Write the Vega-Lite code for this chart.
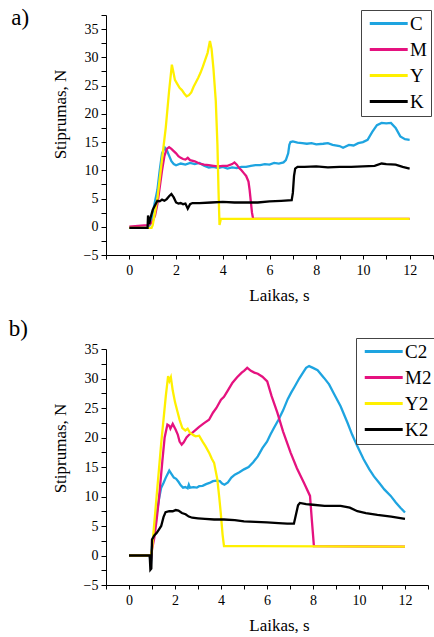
{
  "$schema": "https://vega.github.io/schema/vega-lite/v6.json",
  "padding": {"left": 8, "top": 7, "right": 0, "bottom": 0},
  "spacing": 14,
  "config": {
    "view": {"stroke": null},
    "font": "Liberation Serif",
    "axis": {
      "grid": false,
      "domainColor": "#000000",
      "tickColor": "#000000",
      "labelColor": "#000000",
      "titleColor": "#000000",
      "labelFont": "Liberation Serif",
      "titleFont": "Liberation Serif",
      "labelFontSize": 14,
      "titleFontSize": 17,
      "titleFontWeight": "normal",
      "labelOverlap": false,
      "labelFlush": false,
      "domainWidth": 1,
      "tickWidth": 1
    },
    "legend": {"strokeColor": "#444444"},
    "title": {"font": "Liberation Serif", "fontSize": 23, "fontWeight": "normal", "orient": "left", "angle": 0, "anchor": "end", "align": "right", "baseline": "top", "offset": 4, "color": "#000000"}
  },
  "datasets": {
    "a": [
      {"s":"C","t":0,"v":-0.2},{"s":"C","t":0.8,"v":-0.2},{"s":"C","t":0.9,"v":0.5},{"s":"C","t":1.0,"v":2.5},{"s":"C","t":1.1,"v":4.5},{"s":"C","t":1.2,"v":6.5},{"s":"C","t":1.3,"v":10},{"s":"C","t":1.4,"v":13},{"s":"C","t":1.52,"v":14},{"s":"C","t":1.6,"v":13.6},{"s":"C","t":1.7,"v":12.6},{"s":"C","t":1.8,"v":11.6},{"s":"C","t":1.9,"v":11.1},{"s":"C","t":2.0,"v":10.9},{"s":"C","t":2.2,"v":11.2},{"s":"C","t":2.4,"v":11},{"s":"C","t":2.6,"v":11.3},{"s":"C","t":2.8,"v":11.1},{"s":"C","t":3.0,"v":11.3},{"s":"C","t":3.2,"v":10.8},{"s":"C","t":3.4,"v":10.5},{"s":"C","t":3.6,"v":10.6},{"s":"C","t":3.8,"v":10.4},{"s":"C","t":4.0,"v":10.6},{"s":"C","t":4.2,"v":10.3},{"s":"C","t":4.4,"v":10.5},{"s":"C","t":4.6,"v":10.4},{"s":"C","t":4.8,"v":10.6},{"s":"C","t":5.0,"v":10.6},{"s":"C","t":5.2,"v":10.8},{"s":"C","t":5.4,"v":10.9},{"s":"C","t":5.6,"v":10.9},{"s":"C","t":5.8,"v":11.1},{"s":"C","t":6.0,"v":11.0},{"s":"C","t":6.2,"v":11.3},{"s":"C","t":6.4,"v":11.2},{"s":"C","t":6.6,"v":11.4},{"s":"C","t":6.7,"v":11.8},{"s":"C","t":6.8,"v":13},{"s":"C","t":6.85,"v":14.5},{"s":"C","t":6.9,"v":15},{"s":"C","t":7.0,"v":15.1},{"s":"C","t":7.2,"v":14.9},{"s":"C","t":7.4,"v":14.8},{"s":"C","t":7.6,"v":14.7},{"s":"C","t":7.8,"v":14.8},{"s":"C","t":8.0,"v":14.6},{"s":"C","t":8.3,"v":14.7},{"s":"C","t":8.5,"v":14.8},{"s":"C","t":8.7,"v":14.5},{"s":"C","t":9.0,"v":14.3},{"s":"C","t":9.15,"v":14.0},{"s":"C","t":9.4,"v":14.5},{"s":"C","t":9.6,"v":14.4},{"s":"C","t":9.8,"v":14.8},{"s":"C","t":10.0,"v":15.0},{"s":"C","t":10.2,"v":15.4},{"s":"C","t":10.4,"v":16.8},{"s":"C","t":10.6,"v":18.0},{"s":"C","t":10.8,"v":18.4},{"s":"C","t":11.0,"v":18.3},{"s":"C","t":11.2,"v":18.4},{"s":"C","t":11.4,"v":17.5},{"s":"C","t":11.6,"v":16.0},{"s":"C","t":11.8,"v":15.5},{"s":"C","t":12.0,"v":15.4},
      {"s":"M","t":0,"v":0},{"s":"M","t":0.5,"v":0.2},{"s":"M","t":0.8,"v":0.3},{"s":"M","t":0.9,"v":0.5},{"s":"M","t":1.0,"v":1},{"s":"M","t":1.1,"v":2},{"s":"M","t":1.2,"v":4},{"s":"M","t":1.3,"v":7},{"s":"M","t":1.4,"v":10},{"s":"M","t":1.5,"v":12.5},{"s":"M","t":1.6,"v":13.8},{"s":"M","t":1.7,"v":14.1},{"s":"M","t":1.8,"v":13.8},{"s":"M","t":1.9,"v":13.4},{"s":"M","t":2.0,"v":13},{"s":"M","t":2.1,"v":12.5},{"s":"M","t":2.2,"v":12.2},{"s":"M","t":2.3,"v":12.0},{"s":"M","t":2.4,"v":11.9},{"s":"M","t":2.5,"v":12.2},{"s":"M","t":2.6,"v":11.8},{"s":"M","t":2.8,"v":11.6},{"s":"M","t":3.0,"v":11.2},{"s":"M","t":3.2,"v":11.0},{"s":"M","t":3.4,"v":10.9},{"s":"M","t":3.6,"v":10.8},{"s":"M","t":3.8,"v":10.7},{"s":"M","t":4.0,"v":10.8},{"s":"M","t":4.2,"v":10.8},{"s":"M","t":4.4,"v":11.1},{"s":"M","t":4.5,"v":11.4},{"s":"M","t":4.6,"v":11.0},{"s":"M","t":4.7,"v":10.4},{"s":"M","t":4.8,"v":10.0},{"s":"M","t":4.9,"v":9.5},{"s":"M","t":5.0,"v":9.0},{"s":"M","t":5.1,"v":8.0},{"s":"M","t":5.15,"v":6.5},{"s":"M","t":5.2,"v":4.5},{"s":"M","t":5.25,"v":2.5},{"s":"M","t":5.3,"v":1.4},{"s":"M","t":12,"v":1.4},
      {"s":"Y","t":0,"v":-0.2},{"s":"Y","t":0.95,"v":-0.2},{"s":"Y","t":1.0,"v":0.3},{"s":"Y","t":1.2,"v":5},{"s":"Y","t":1.4,"v":12},{"s":"Y","t":1.56,"v":17.6},{"s":"Y","t":1.7,"v":24},{"s":"Y","t":1.82,"v":28.7},{"s":"Y","t":1.88,"v":27.5},{"s":"Y","t":1.95,"v":26},{"s":"Y","t":2.05,"v":25.3},{"s":"Y","t":2.15,"v":24.6},{"s":"Y","t":2.25,"v":24.2},{"s":"Y","t":2.35,"v":23.6},{"s":"Y","t":2.45,"v":23.1},{"s":"Y","t":2.55,"v":23.3},{"s":"Y","t":2.65,"v":23.8},{"s":"Y","t":2.75,"v":24.8},{"s":"Y","t":2.85,"v":25.6},{"s":"Y","t":2.95,"v":26.4},{"s":"Y","t":3.05,"v":27.3},{"s":"Y","t":3.15,"v":28.4},{"s":"Y","t":3.25,"v":29.6},{"s":"Y","t":3.35,"v":30.8},{"s":"Y","t":3.45,"v":32.9},{"s":"Y","t":3.52,"v":31.5},{"s":"Y","t":3.6,"v":28},{"s":"Y","t":3.7,"v":22.3},{"s":"Y","t":3.77,"v":14.6},{"s":"Y","t":3.82,"v":6},{"s":"Y","t":3.86,"v":0.3},{"s":"Y","t":3.92,"v":1.4},{"s":"Y","t":12,"v":1.4},
      {"s":"K","t":0,"v":-0.2},{"s":"K","t":0.78,"v":-0.2},{"s":"K","t":0.8,"v":2},{"s":"K","t":0.85,"v":0.5},{"s":"K","t":0.9,"v":1.5},{"s":"K","t":1.0,"v":3},{"s":"K","t":1.1,"v":3.8},{"s":"K","t":1.2,"v":4.6},{"s":"K","t":1.3,"v":4.5},{"s":"K","t":1.4,"v":4.8},{"s":"K","t":1.5,"v":4.6},{"s":"K","t":1.6,"v":4.9},{"s":"K","t":1.7,"v":5.4},{"s":"K","t":1.8,"v":5.8},{"s":"K","t":1.9,"v":5.2},{"s":"K","t":2.0,"v":4.3},{"s":"K","t":2.1,"v":4.1},{"s":"K","t":2.2,"v":4.2},{"s":"K","t":2.3,"v":4.0},{"s":"K","t":2.4,"v":4.1},{"s":"K","t":2.5,"v":3.2},{"s":"K","t":2.6,"v":4.0},{"s":"K","t":2.7,"v":4.2},{"s":"K","t":3.0,"v":4.2},{"s":"K","t":3.5,"v":4.3},{"s":"K","t":4.0,"v":4.4},{"s":"K","t":4.5,"v":4.3},{"s":"K","t":5.0,"v":4.3},{"s":"K","t":5.5,"v":4.3},{"s":"K","t":6.0,"v":4.5},{"s":"K","t":6.5,"v":4.6},{"s":"K","t":6.95,"v":4.7},{"s":"K","t":7.0,"v":6},{"s":"K","t":7.05,"v":9},{"s":"K","t":7.1,"v":10.3},{"s":"K","t":7.2,"v":10.6},{"s":"K","t":7.5,"v":10.6},{"s":"K","t":8.0,"v":10.7},{"s":"K","t":8.5,"v":10.5},{"s":"K","t":9.0,"v":10.6},{"s":"K","t":9.5,"v":10.6},{"s":"K","t":10.0,"v":10.7},{"s":"K","t":10.5,"v":10.8},{"s":"K","t":10.8,"v":11.2},{"s":"K","t":11.0,"v":11.1},{"s":"K","t":11.4,"v":11.0},{"s":"K","t":11.7,"v":10.6},{"s":"K","t":12.0,"v":10.3}
    ],
    "b": [
      {"s":"C2","t":0,"v":0},{"s":"C2","t":0.9,"v":0},{"s":"C2","t":0.95,"v":-1.5},{"s":"C2","t":1.0,"v":1.5},{"s":"C2","t":1.1,"v":4},{"s":"C2","t":1.2,"v":7},{"s":"C2","t":1.3,"v":9.5},{"s":"C2","t":1.4,"v":11.5},{"s":"C2","t":1.5,"v":12.3},{"s":"C2","t":1.6,"v":13.2},{"s":"C2","t":1.7,"v":14},{"s":"C2","t":1.75,"v":14.4},{"s":"C2","t":1.85,"v":13.8},{"s":"C2","t":1.95,"v":13.2},{"s":"C2","t":2.05,"v":13.0},{"s":"C2","t":2.15,"v":12.5},{"s":"C2","t":2.25,"v":11.9},{"s":"C2","t":2.35,"v":11.5},{"s":"C2","t":2.45,"v":11.6},{"s":"C2","t":2.55,"v":11.4},{"s":"C2","t":2.6,"v":12},{"s":"C2","t":2.65,"v":11.5},{"s":"C2","t":2.8,"v":11.6},{"s":"C2","t":2.95,"v":11.5},{"s":"C2","t":3.05,"v":11.75},{"s":"C2","t":3.2,"v":11.8},{"s":"C2","t":3.35,"v":12.1},{"s":"C2","t":3.5,"v":12.3},{"s":"C2","t":3.65,"v":12.6},{"s":"C2","t":3.8,"v":12.7},{"s":"C2","t":3.95,"v":12.6},{"s":"C2","t":4.05,"v":12.2},{"s":"C2","t":4.15,"v":12.0},{"s":"C2","t":4.3,"v":12.4},{"s":"C2","t":4.45,"v":13.2},{"s":"C2","t":4.6,"v":13.7},{"s":"C2","t":4.8,"v":14.1},{"s":"C2","t":5.0,"v":14.6},{"s":"C2","t":5.2,"v":15.0},{"s":"C2","t":5.4,"v":15.8},{"s":"C2","t":5.6,"v":16.8},{"s":"C2","t":5.8,"v":18.2},{"s":"C2","t":6.0,"v":19.3},{"s":"C2","t":6.15,"v":20.5},{"s":"C2","t":6.3,"v":21.6},{"s":"C2","t":6.5,"v":23},{"s":"C2","t":6.7,"v":24.6},{"s":"C2","t":6.9,"v":26.5},{"s":"C2","t":7.05,"v":27.6},{"s":"C2","t":7.2,"v":28.6},{"s":"C2","t":7.4,"v":30},{"s":"C2","t":7.6,"v":31.2},{"s":"C2","t":7.7,"v":31.8},{"s":"C2","t":7.83,"v":32.1},{"s":"C2","t":8.0,"v":31.8},{"s":"C2","t":8.2,"v":31.4},{"s":"C2","t":8.48,"v":30.1},{"s":"C2","t":8.7,"v":29},{"s":"C2","t":8.9,"v":27.5},{"s":"C2","t":9.2,"v":25.3},{"s":"C2","t":9.5,"v":22.5},{"s":"C2","t":9.7,"v":20.5},{"s":"C2","t":9.93,"v":18.5},{"s":"C2","t":10.2,"v":16.3},{"s":"C2","t":10.45,"v":14.6},{"s":"C2","t":10.65,"v":13.4},{"s":"C2","t":10.9,"v":12.2},{"s":"C2","t":11.1,"v":11.2},{"s":"C2","t":11.38,"v":10.1},{"s":"C2","t":11.6,"v":9.0},{"s":"C2","t":11.8,"v":8.1},{"s":"C2","t":12.0,"v":7.3},
      {"s":"M2","t":0,"v":0},{"s":"M2","t":0.9,"v":0},{"s":"M2","t":0.95,"v":-1},{"s":"M2","t":1.0,"v":1},{"s":"M2","t":1.1,"v":3},{"s":"M2","t":1.2,"v":6},{"s":"M2","t":1.3,"v":9.5},{"s":"M2","t":1.45,"v":16},{"s":"M2","t":1.55,"v":20},{"s":"M2","t":1.67,"v":22.2},{"s":"M2","t":1.75,"v":22},{"s":"M2","t":1.8,"v":21.5},{"s":"M2","t":1.9,"v":22.3},{"s":"M2","t":2.03,"v":21.3},{"s":"M2","t":2.12,"v":20.5},{"s":"M2","t":2.2,"v":19.3},{"s":"M2","t":2.29,"v":18.8},{"s":"M2","t":2.38,"v":19.2},{"s":"M2","t":2.5,"v":20},{"s":"M2","t":2.62,"v":20.5},{"s":"M2","t":2.75,"v":20.8},{"s":"M2","t":2.9,"v":21.3},{"s":"M2","t":3.05,"v":21.8},{"s":"M2","t":3.25,"v":22.4},{"s":"M2","t":3.48,"v":23},{"s":"M2","t":3.65,"v":24.2},{"s":"M2","t":3.8,"v":25},{"s":"M2","t":4.0,"v":26.4},{"s":"M2","t":4.13,"v":26.9},{"s":"M2","t":4.3,"v":28},{"s":"M2","t":4.5,"v":29.3},{"s":"M2","t":4.7,"v":30.2},{"s":"M2","t":4.9,"v":31},{"s":"M2","t":5.0,"v":31.3},{"s":"M2","t":5.14,"v":31.8},{"s":"M2","t":5.3,"v":31.3},{"s":"M2","t":5.45,"v":31},{"s":"M2","t":5.6,"v":30.8},{"s":"M2","t":5.8,"v":30.3},{"s":"M2","t":6.01,"v":29.5},{"s":"M2","t":6.2,"v":27},{"s":"M2","t":6.45,"v":24.2},{"s":"M2","t":6.7,"v":21},{"s":"M2","t":7.03,"v":17.4},{"s":"M2","t":7.3,"v":14.8},{"s":"M2","t":7.61,"v":12.3},{"s":"M2","t":7.87,"v":10.1},{"s":"M2","t":7.95,"v":6},{"s":"M2","t":8.04,"v":1.6},{"s":"M2","t":12,"v":1.5},
      {"s":"Y2","t":0,"v":0},{"s":"Y2","t":0.95,"v":0},{"s":"Y2","t":1.0,"v":1},{"s":"Y2","t":1.2,"v":10},{"s":"Y2","t":1.4,"v":19},{"s":"Y2","t":1.6,"v":27},{"s":"Y2","t":1.7,"v":30.4},{"s":"Y2","t":1.76,"v":29.6},{"s":"Y2","t":1.82,"v":30.2},{"s":"Y2","t":1.9,"v":28},{"s":"Y2","t":2.0,"v":26},{"s":"Y2","t":2.1,"v":24.5},{"s":"Y2","t":2.2,"v":23},{"s":"Y2","t":2.32,"v":21.6},{"s":"Y2","t":2.45,"v":21.2},{"s":"Y2","t":2.55,"v":21.5},{"s":"Y2","t":2.65,"v":20.8},{"s":"Y2","t":2.8,"v":20.4},{"s":"Y2","t":2.9,"v":20.2},{"s":"Y2","t":3.05,"v":20.3},{"s":"Y2","t":3.2,"v":19.3},{"s":"Y2","t":3.33,"v":18.5},{"s":"Y2","t":3.5,"v":17.3},{"s":"Y2","t":3.6,"v":16.4},{"s":"Y2","t":3.7,"v":15.7},{"s":"Y2","t":3.84,"v":12.9},{"s":"Y2","t":3.92,"v":10},{"s":"Y2","t":3.99,"v":7.2},{"s":"Y2","t":4.07,"v":3.5},{"s":"Y2","t":4.13,"v":1.6},{"s":"Y2","t":12,"v":1.5},
      {"s":"K2","t":0,"v":0},{"s":"K2","t":0.9,"v":0},{"s":"K2","t":0.93,"v":-2.4},{"s":"K2","t":0.97,"v":-2.2},{"s":"K2","t":1.0,"v":2.7},{"s":"K2","t":1.1,"v":3.4},{"s":"K2","t":1.2,"v":3.8},{"s":"K2","t":1.3,"v":4.4},{"s":"K2","t":1.4,"v":5.0},{"s":"K2","t":1.5,"v":6.5},{"s":"K2","t":1.59,"v":7.35},{"s":"K2","t":1.75,"v":7.5},{"s":"K2","t":1.9,"v":7.5},{"s":"K2","t":2.03,"v":7.7},{"s":"K2","t":2.15,"v":7.6},{"s":"K2","t":2.3,"v":7.2},{"s":"K2","t":2.46,"v":7.0},{"s":"K2","t":2.6,"v":6.6},{"s":"K2","t":2.75,"v":6.4},{"s":"K2","t":3.0,"v":6.3},{"s":"K2","t":3.3,"v":6.2},{"s":"K2","t":3.7,"v":6.1},{"s":"K2","t":4.13,"v":6.1},{"s":"K2","t":4.6,"v":6.0},{"s":"K2","t":5.0,"v":5.8},{"s":"K2","t":5.5,"v":5.7},{"s":"K2","t":6.0,"v":5.6},{"s":"K2","t":6.5,"v":5.5},{"s":"K2","t":6.88,"v":5.4},{"s":"K2","t":7.17,"v":5.4},{"s":"K2","t":7.25,"v":6.8},{"s":"K2","t":7.35,"v":8.5},{"s":"K2","t":7.43,"v":8.9},{"s":"K2","t":7.7,"v":8.7},{"s":"K2","t":8.0,"v":8.6},{"s":"K2","t":8.5,"v":8.4},{"s":"K2","t":9.2,"v":8.4},{"s":"K2","t":9.6,"v":8.1},{"s":"K2","t":9.93,"v":7.5},{"s":"K2","t":10.3,"v":7.2},{"s":"K2","t":10.8,"v":6.9},{"s":"K2","t":11.4,"v":6.6},{"s":"K2","t":12.0,"v":6.2}
    ]
  },
  "resolve": {"scale": {"color": "independent"}, "legend": {"color": "independent"}},
  "vconcat": [
    {
      "title": {"text": "a)", "dy": -1},
      "width": 327,
      "height": 240,
      "data": {"name": "a"},
      "mark": {"type": "line", "strokeWidth": 2.3},
      "encoding": {
        "x": {"field": "t", "type": "quantitative", "scale": {"domain": [-1, 13], "nice": false, "zero": false},
          "axis": {"title": "Laikas, s", "values": [-1,0,1,2,3,4,5,6,7,8,9,10,11,12,13], "labelExpr": "datum.value % 2 == 0 && datum.value >= 0 && datum.value <= 12 ? datum.label : ''", "tickSize": 4, "labelPadding": 4, "titlePadding": 10, "titleX": 173}},
        "y": {"field": "v", "type": "quantitative", "scale": {"domain": [-5, 37.5], "nice": false, "zero": false},
          "axis": {"title": "Stiprumas, N", "values": [-5,-2.5,0,2.5,5,7.5,10,12.5,15,17.5,20,22.5,25,27.5,30,32.5,35,37.5], "labelExpr": "datum.value % 5 == 0 ? datum.label : ''", "tickSize": 5, "labelPadding": 3, "titlePadding": 14, "titleY": 99}},
        "color": {"field": "s", "type": "nominal", "sort": null,
          "scale": {"domain": ["C","M","Y","K"], "range": ["#1ea4e0","#e5127f","#fff000","#000000"]},
          "legend": {"title": null, "orient": "none", "legendX": 255, "legendY": -5, "symbolType": "M-1,0H7", "symbolSize": 90, "symbolStrokeWidth": 3, "labelFont": "Liberation Serif", "labelFontSize": 19, "labelColor": "#000000", "labelOffset": 26, "strokeColor": "#444444", "padding": 4, "rowPadding": 6}}
      }
    },
    {
      "title": {"text": "b)", "dy": -20},
      "width": 322,
      "height": 236,
      "data": {"name": "b"},
      "mark": {"type": "line", "strokeWidth": 2.3},
      "encoding": {
        "x": {"field": "t", "type": "quantitative", "scale": {"domain": [-1, 13], "nice": false, "zero": false},
          "axis": {"title": "Laikas, s", "values": [-1,0,1,2,3,4,5,6,7,8,9,10,11,12,13], "labelExpr": "datum.value % 2 == 0 && datum.value >= 0 && datum.value <= 12 ? datum.label : ''", "tickSize": 4, "labelPadding": 4, "titlePadding": 10, "titleX": 173}},
        "y": {"field": "v", "type": "quantitative", "scale": {"domain": [-5, 35], "nice": false, "zero": false},
          "axis": {"title": "Stiprumas, N", "values": [-5,-2.5,0,2.5,5,7.5,10,12.5,15,17.5,20,22.5,25,27.5,30,32.5,35], "labelExpr": "datum.value % 5 == 0 ? datum.label : ''", "tickSize": 5, "labelPadding": 3, "titlePadding": 14, "titleY": 99}},
        "color": {"field": "s", "type": "nominal", "sort": null,
          "scale": {"domain": ["C2","M2","Y2","K2"], "range": ["#1ea4e0","#e5127f","#fff000","#000000"]},
          "legend": {"title": null, "orient": "none", "legendX": 250, "legendY": -11, "symbolType": "M-1,0H7", "symbolSize": 90, "symbolStrokeWidth": 3, "labelFont": "Liberation Serif", "labelFontSize": 19, "labelColor": "#000000", "labelOffset": 26, "strokeColor": "#444444", "padding": 4, "rowPadding": 6}}
      }
    }
  ]
}
